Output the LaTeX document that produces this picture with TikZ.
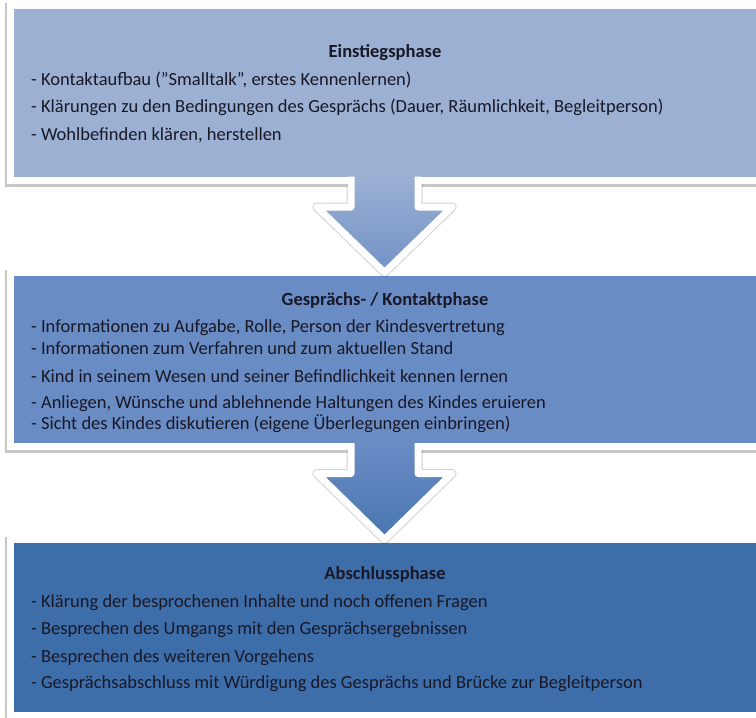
\documentclass[tikz,border=0pt]{standalone}
\usepackage{fontspec}
\setmainfont{Carlito}
\usetikzlibrary{shadows,calc}

\definecolor{phaseA}{RGB}{155,176,211}
\definecolor{phaseB}{RGB}{106,140,196}
\definecolor{phaseC}{RGB}{62,110,170}
\definecolor{schrift}{RGB}{24,24,38}

\tikzset{
  phasebox/.style={draw=white, line width=7pt, minimum width=753pt, inner sep=0pt, outer sep=0pt,
    drop shadow={shadow xshift=-1pt, shadow yshift=-2pt, opacity=0.22, draw=black, line width=9pt}},
  titel/.style={font=\fontsize{18.5}{22}\selectfont\bfseries, text=schrift, inner sep=0pt},
  punkt/.style={font=\fontsize{18.5}{22}\selectfont, text=schrift, anchor=base west, inner sep=0pt},
  pfeil/.style={draw=white, line width=7pt, line join=round},
  pfeilschatten/.style={draw=black, opacity=0.18, line width=9pt, line join=round}
}

\begin{document}
\begin{tikzpicture}[x=1pt,y=-1pt]
  \useasboundingbox (0,0) rectangle (756,718);
  % Phasen
  \node[phasebox, fill=phaseA, minimum height=175pt] (box1) at (387,92.5) {};
  \node[phasebox, fill=phaseB, minimum height=174pt] (box2) at (387,359.5) {};
  \node[phasebox, fill=phaseC, minimum height=176pt] (box3) at (387,627.5) {};
  % Pfeile
  \foreach \a/\b/\c/\d in {box1/box2/phaseA/phaseB!85!phaseA, box2/box3/phaseB/phaseC!75!phaseB}{
    \path[pfeilschatten, shift={(-1,2.5)}] ($(\a.south)+(-36,3.5)$) -- ($(\a.south)+(-36,27)$)
      -- ($(\a.south)+(-70,27)$) -- ($(\b.north)+(-2.5,0)$) -- ($(\a.south)+(65,27)$)
      -- ($(\a.south)+(31,27)$) -- ($(\a.south)+(31,3.5)$);
    \path[pfeil, top color=\c, bottom color=\d] ($(\a.south)+(-36,-3.5)$) -- ($(\a.south)+(-36,27)$)
      -- ($(\a.south)+(-70,27)$) -- ($(\b.north)+(-2.5,0)$) -- ($(\a.south)+(65,27)$)
      -- ($(\a.south)+(31,27)$) -- ($(\a.south)+(31,-3.5)$);
  }
  % Texte
  \node[titel] (t1) at (385,53) {Einstiegsphase};
  \foreach \y/\txt [count=\i] in {
      80/{- Kontaktaufbau ("Smalltalk", erstes Kennenlernen)},
      107/{- Klärungen zu den Bedingungen des Gesprächs (Dauer, Räumlichkeit, Begleitperson)},
      135/{- Wohlbefinden klären, herstellen}}
    \node[punkt] (e\i) at (31,\y+5) {\txt};
  \node[titel] (t2) at (385,300) {Gesprächs- / Kontaktphase};
  \foreach \y/\txt [count=\i] in {
      327/{- Informationen zu Aufgabe, Rolle, Person der Kindesvertretung},
      349/{- Informationen zum Verfahren und zum aktuellen Stand},
      377/{- Kind in seinem Wesen und seiner Befindlichkeit kennen lernen},
      403/{- Anliegen, Wünsche und ablehnende Haltungen des Kindes eruieren},
      424/{- Sicht des Kindes diskutieren (eigene Überlegungen einbringen)}}
    \node[punkt] (k\i) at (31,\y+5) {\txt};
  \node[titel] (t3) at (385,574) {Abschlussphase};
  \foreach \y/\txt [count=\i] in {
      602/{- Klärung der besprochenen Inhalte und noch offenen Fragen},
      629/{- Besprechen des Umgangs mit den Gesprächsergebnissen},
      657/{- Besprechen des weiteren Vorgehens},
      683/{- Gesprächsabschluss mit Würdigung des Gesprächs und Brücke zur Begleitperson}}
    \node[punkt] (a\i) at (31,\y+5) {\txt};
\end{tikzpicture}
\end{document}
